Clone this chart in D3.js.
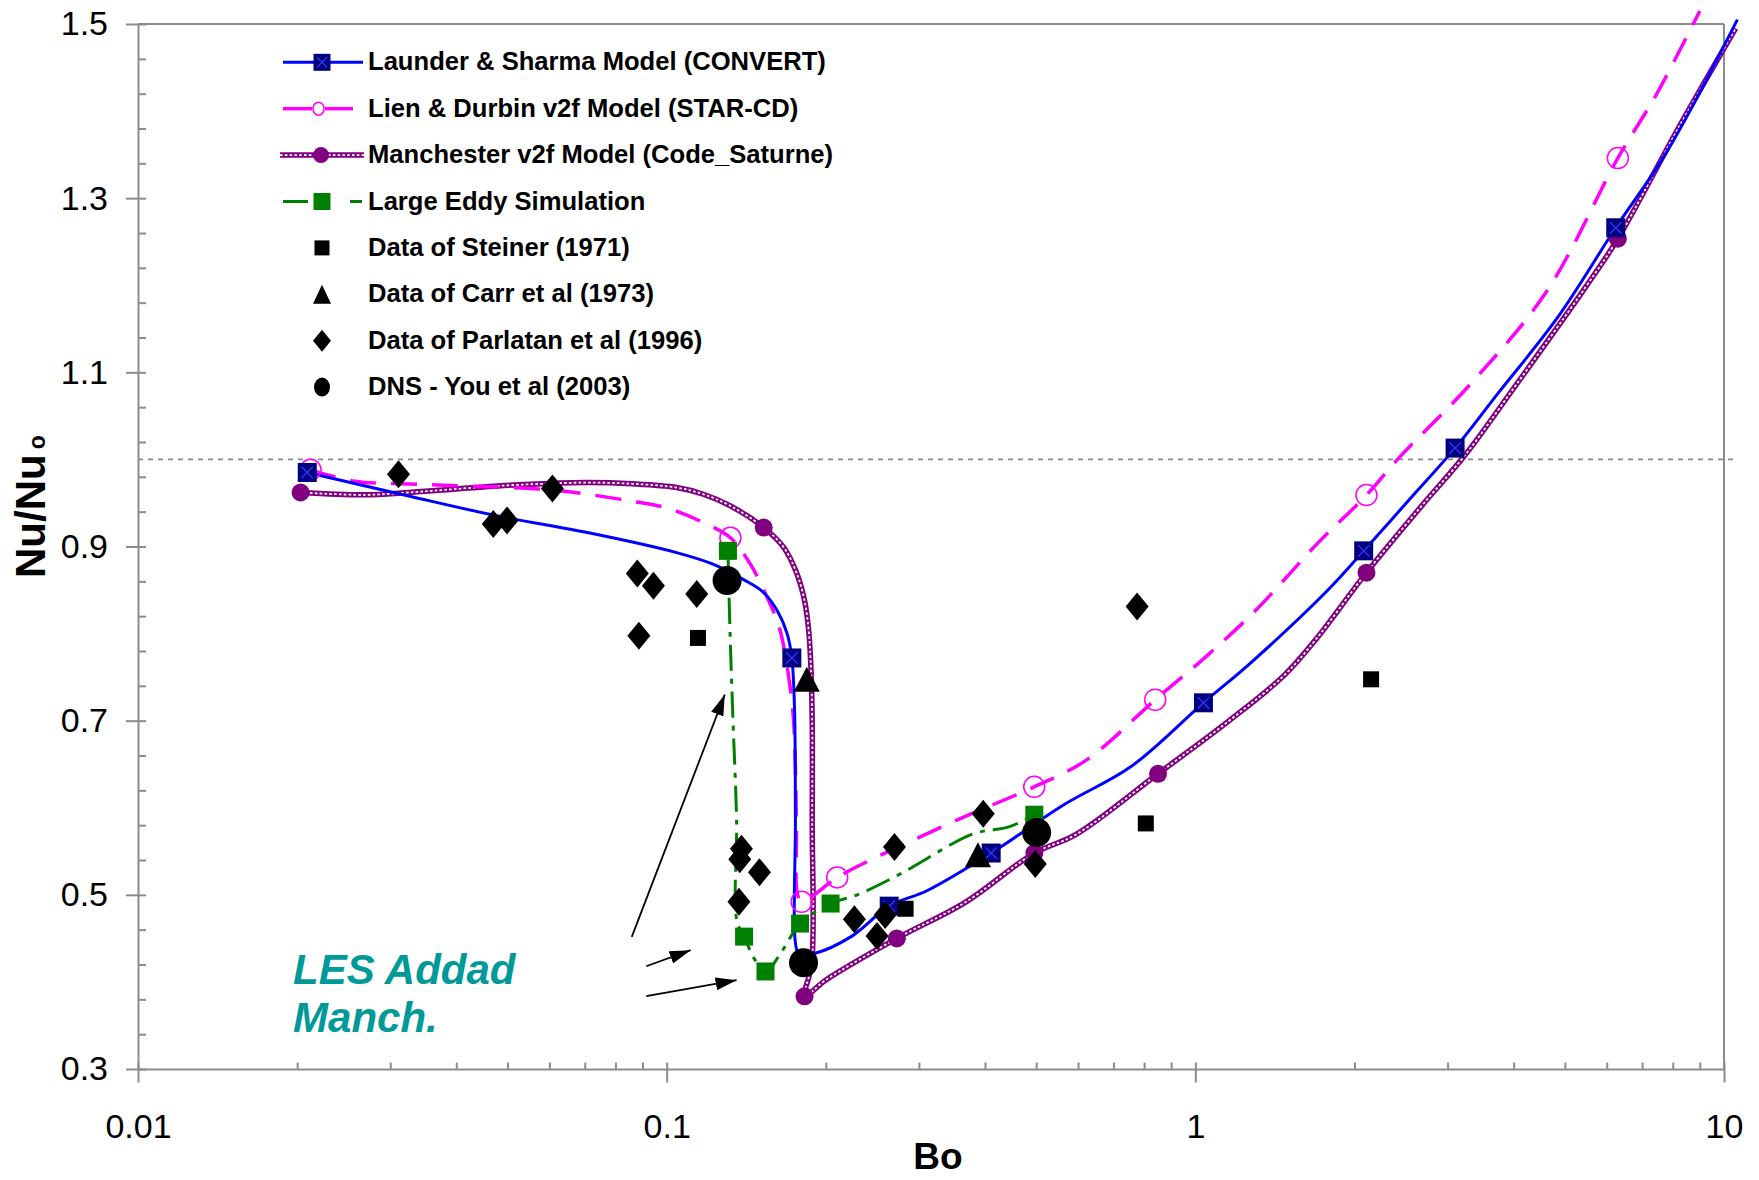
<!DOCTYPE html>
<html>
<head>
<meta charset="utf-8">
<script src="https://cdn.jsdelivr.net/npm/d3@7"></script>
<style>
  html, body { margin: 0; padding: 0; background: #ffffff; }
  svg { display: block; }
  text { font-family: "Liberation Sans", Arial, Helvetica, sans-serif; }
</style>
</head>
<body>
<svg id="chart" width="1759" height="1180"></svg>
<script>
// ---------------------------------------------------------------
// Nu/Nu0 versus buoyancy parameter Bo: turbulence models, LES and
// experimental / DNS data for heated upward pipe flow.
// Each point is [Bo, Nu/Nu0].
// ---------------------------------------------------------------

// Launder & Sharma model (CONVERT): curve and symbol positions
const launderSharmaCurve = [
  [0.0209, 0.985], [0.0325, 0.958], [0.048, 0.935], [0.0708, 0.916],
  [0.1044, 0.893], [0.122, 0.880], [0.1398, 0.862], [0.152, 0.848],
  [0.162, 0.826], [0.1690, 0.800], [0.1725, 0.772], [0.1745, 0.715],
  [0.1752, 0.585], [0.1752, 0.445], [0.178, 0.432], [0.191, 0.433],
  [0.2233, 0.452], [0.2636, 0.487], [0.3113, 0.505], [0.411, 0.548],
  [0.566, 0.604], [0.7545, 0.647], [1.036, 0.7205], [1.276, 0.767],
  [1.782, 0.850], [2.082, 0.895], [2.61, 0.962], [3.10, 1.013],
  [3.727, 1.075], [4.845, 1.163], [6.24, 1.266], [7.81, 1.354],
  [10.6, 1.505]
];
const launderSharmaMarkers = [
  [0.0209, 0.985], [0.1725, 0.772], [0.2636, 0.487], [0.411, 0.548],
  [1.036, 0.7205], [2.082, 0.895], [3.10, 1.013], [6.24, 1.266]
];

// Lien & Durbin v2f model (STAR-CD)
const lienDurbinCurve = [
  [0.0212, 0.988], [0.0257, 0.975], [0.0338, 0.9715], [0.041, 0.9696],
  [0.0582, 0.9658], [0.0708, 0.960], [0.086, 0.952], [0.1004, 0.944],
  [0.1173, 0.9275], [0.132, 0.910], [0.1439, 0.880], [0.154, 0.845],
  [0.1633, 0.807], [0.1698, 0.754], [0.1738, 0.700], [0.1760, 0.585],
  [0.1769, 0.500], [0.180, 0.492], [0.2102, 0.520], [0.2495, 0.5434],
  [0.2766, 0.556], [0.3636, 0.589], [0.4957, 0.624], [0.623, 0.655],
  [0.8397, 0.724], [1.054, 0.775], [1.307, 0.828], [1.699, 0.903],
  [2.107, 0.959], [2.43, 1.002], [3.308, 1.086], [4.62, 1.193],
  [6.298, 1.346], [7.447, 1.419], [9.0, 1.515]
];
const lienDurbinMarkers = [
  [0.0212, 0.988], [0.132, 0.910], [0.180, 0.492], [0.2102, 0.520],
  [0.4957, 0.624], [0.8397, 0.724], [2.107, 0.959], [6.298, 1.346]
];

// Manchester v2f model (Code_Saturne)
const manchesterCurve = [
  [0.0203, 0.962], [0.0268, 0.9593], [0.0325, 0.962], [0.0395, 0.9658],
  [0.048, 0.9696], [0.0582, 0.972], [0.0708, 0.9734], [0.086, 0.972],
  [0.1044, 0.9677], [0.1173, 0.960], [0.132, 0.9466], [0.1526, 0.9218],
  [0.1666, 0.8988], [0.1755, 0.872], [0.1818, 0.8415], [0.1854, 0.807],
  [0.1872, 0.769], [0.1885, 0.700], [0.1885, 0.585], [0.1880, 0.420],
  [0.1823, 0.3835], [0.1998, 0.402], [0.2725, 0.450], [0.3685, 0.492],
  [0.496, 0.548], [0.5937, 0.569], [0.850, 0.639], [1.159, 0.700],
  [1.472, 0.752], [1.699, 0.795], [2.107, 0.870], [2.674, 0.946],
  [3.238, 1.005], [4.004, 1.082], [5.46, 1.197], [6.298, 1.2535],
  [8.19, 1.380], [10.52, 1.495]
];
const manchesterMarkers = [
  [0.0203, 0.962], [0.1526, 0.9218], [0.1823, 0.3835], [0.2725, 0.450],
  [0.496, 0.548], [0.850, 0.639], [2.107, 0.870], [6.298, 1.2535]
];

// Large Eddy Simulation
const lesCurve = [
  [0.1306, 0.895], [0.1318, 0.800], [0.1335, 0.700], [0.1356, 0.585],
  [0.1358, 0.470], [0.1401, 0.452], [0.1470, 0.425], [0.1538, 0.412],
  [0.1655, 0.436], [0.1788, 0.467], [0.2042, 0.490], [0.2283, 0.4995],
  [0.2766, 0.524], [0.380, 0.570], [0.444, 0.578], [0.496, 0.592]
];
const lesMarkers = [
  [0.1306, 0.895], [0.1401, 0.452], [0.1538, 0.412], [0.1788, 0.467],
  [0.2042, 0.490], [0.496, 0.592]
];

// Experimental and DNS data
const steinerData = [[0.1146, 0.795], [0.2831, 0.484], [0.806, 0.582], [2.15, 0.7475]];
const carrData = [[0.1841, 0.7475], [0.388, 0.546]];
const parlatanData = [
  [0.0311, 0.983], [0.047, 0.9257], [0.0499, 0.930], [0.0608, 0.9665],
  [0.088, 0.869], [0.0944, 0.855], [0.0886, 0.7976], [0.114, 0.8454],
  [0.1385, 0.553], [0.1375, 0.541], [0.1498, 0.526], [0.137, 0.492],
  [0.2265, 0.472], [0.2500, 0.4526], [0.2590, 0.4768], [0.2697, 0.555],
  [0.397, 0.593], [0.498, 0.5355], [0.776, 0.831]
];
const dnsData = [[0.1301, 0.861], [0.1815, 0.422], [0.501, 0.5715]];

// Reference level Nu/Nu0 = 1
const referenceLevel = [[0.01, 1.0], [10.6, 1.0]];

// Axis ticks and labels
const xTickValues = [0.01, 0.1, 1, 10];
const xTickLabels = ["0.01", "0.1", "1", "10"];
const yTickValues = [0.3, 0.5, 0.7, 0.9, 1.1, 1.3, 1.5];
const yTickLabels = ["0.3", "0.5", "0.7", "0.9", "1.1", "1.3", "1.5"];

// Legend entries
const legendLabels = [
  "Launder & Sharma Model (CONVERT)",
  "Lien & Durbin v2f Model (STAR-CD)",
  "Manchester v2f Model (Code_Saturne)",
  "Large Eddy Simulation",
  "Data of Steiner (1971)",
  "Data of Carr et al (1973)",
  "Data of Parlatan et al (1996)",
  "DNS - You et al (2003)"
];

// Annotation arrows [from, to] and caption
const annotationArrows = [
  [[0.0859, 0.4517], [0.1288, 0.730]],
  [[0.0915, 0.418], [0.1110, 0.4364]],
  [[0.0915, 0.3837], [0.1356, 0.402]]
];
const annotationLines = [
  { text: "LES Addad", at: [0.01965, 0.3975] },
  { text: "Manch.", at: [0.01965, 0.3428] }
];

// ---------------------------------------------------------------
const colors = {
  blue: "#0000ff", navy: "#000080", magenta: "#ff00ff",
  purple: "#800080", green: "#008000", axis: "#8c8c8c", teal: "#009999"
};

const svg = d3.select("#chart");
const x = d3.scaleLog().domain([0.01, 10]).range([138, 1724]);
const y = d3.scaleLinear().domain([0.3, 1.5]).range([1069, 24]);

// ---------- axes ----------
const gx = svg.append("g").attr("transform", `translate(0,${y(0.3)})`);
gx.call(d3.axisBottom(x).tickValues(xTickValues).tickSize(13.5).tickSizeOuter(0)
  .tickPadding(31.5).tickFormat((d, i) => xTickLabels[i]));
const gxIn = svg.append("g").attr("transform", `translate(0,${y(0.3)})`);
gxIn.call(d3.axisBottom(x).tickValues(x.ticks()).tickSize(-6.5).tickSizeOuter(0).tickFormat(""));
gxIn.select(".domain").remove();

const gy = svg.append("g").attr("transform", `translate(${x(0.01)},0)`);
gy.call(d3.axisLeft(y).tickValues(yTickValues).tickSize(12).tickSizeOuter(0)
  .tickPadding(18).tickFormat((d, i) => yTickLabels[i]));
const gyIn = svg.append("g").attr("transform", `translate(${x(0.01)},0)`);
gyIn.call(d3.axisLeft(y).tickValues(d3.range(0, 31).map(k => 0.3 + k * 0.04))
  .tickSize(-8).tickSizeOuter(0).tickFormat(""));
gyIn.select(".domain").remove();

[gx, gxIn, gy, gyIn].forEach(g => {
  g.selectAll(".domain").attr("stroke", colors.axis).attr("stroke-width", 2);
  g.selectAll(".tick line").attr("stroke", colors.axis).attr("stroke-width", 2);
  g.selectAll(".tick text").attr("fill", "#000").attr("font-size", 34)
    .attr("font-family", "'Liberation Sans', Arial, sans-serif");
});

// frame: top and right edges
svg.append("line").attr("x1", x(0.01)).attr("x2", x(10)).attr("y1", y(1.5)).attr("y2", y(1.5))
  .attr("stroke", colors.axis).attr("stroke-width", 2);
svg.append("line").attr("x1", x(10)).attr("x2", x(10)).attr("y1", y(1.5)).attr("y2", y(0.3))
  .attr("stroke", colors.axis).attr("stroke-width", 2);

// axis titles
svg.append("text").attr("x", 938).attr("y", 1169).attr("text-anchor", "middle")
  .attr("font-size", 37).attr("font-weight", "bold").text("Bo");
const yTitle = svg.append("text").attr("transform", "translate(45,578) rotate(-90)")
  .attr("font-size", 42).attr("font-weight", "bold");
yTitle.append("tspan").text("Nu/Nu");
yTitle.append("tspan").attr("dx", 5).attr("font-size", 23).text("o");

// ---------- lines ----------
const line = d3.line().x(d => x(d[0])).y(d => y(d[1])).curve(d3.curveCatmullRom.alpha(0.5));
const straight = d3.line().x(d => x(d[0])).y(d => y(d[1]));

svg.append("path").attr("d", straight(referenceLevel)).attr("fill", "none")
  .attr("stroke", "#8a8a8a").attr("stroke-width", 1.6).attr("stroke-dasharray", "5,5");

// Manchester: ring-chain line
svg.append("path").attr("d", line(manchesterCurve)).attr("fill", "none")
  .attr("stroke", colors.purple).attr("stroke-width", 5.5).attr("stroke-linejoin", "round");
svg.append("path").attr("d", line(manchesterCurve)).attr("fill", "none")
  .attr("stroke", "#ffffff").attr("stroke-width", 1.8).attr("stroke-dasharray", "2.6,2.2");

svg.append("path").attr("d", line(lienDurbinCurve)).attr("fill", "none")
  .attr("stroke", colors.magenta).attr("stroke-width", 3.5).attr("stroke-dasharray", "26,15");

svg.append("path").attr("d", line(launderSharmaCurve)).attr("fill", "none")
  .attr("stroke", colors.blue).attr("stroke-width", 3).attr("stroke-linejoin", "round");

svg.append("path").attr("d", line(lesCurve)).attr("fill", "none")
  .attr("stroke", colors.green).attr("stroke-width", 3).attr("stroke-dasharray", "26,8,5,8");

// ---------- marker shapes ----------
const squarePath = s => `M${-s / 2},${-s / 2}H${s / 2}V${s / 2}H${-s / 2}Z`;
const diamondPath = (w, h) => `M0,${-h / 2}L${w / 2},0L0,${h / 2}L${-w / 2},0Z`;
const trianglePath = (w, h) => `M0,${-h / 2}L${w / 2},${h / 2}L${-w / 2},${h / 2}Z`;
const at = d => `translate(${x(d[0])},${y(d[1])})`;

function drawLaunderMarker(g, s) {
  g.append("path").attr("d", squarePath(s)).attr("fill", colors.navy);
  g.append("path").attr("d", `M${-s * 0.3},${-s * 0.3}L${s * 0.3},${s * 0.3}M${s * 0.3},${-s * 0.3}L${-s * 0.3},${s * 0.3}`)
    .attr("stroke", "#3a3aff").attr("stroke-width", 1.2);
}

svg.append("g").selectAll("g").data(manchesterMarkers).join("g").attr("transform", at)
  .append("circle").attr("r", 9).attr("fill", colors.purple);

svg.append("g").selectAll("g").data(lienDurbinMarkers).join("g").attr("transform", at)
  .append("circle").attr("r", 10.5).attr("fill", "none")
  .attr("stroke", colors.magenta).attr("stroke-width", 1.5);

svg.append("g").selectAll("g").data(launderSharmaMarkers).join("g").attr("transform", at)
  .each(function () { drawLaunderMarker(d3.select(this), 19); });

svg.append("g").selectAll("path").data(lesMarkers).join("path").attr("transform", at)
  .attr("d", squarePath(18)).attr("fill", colors.green);

// data symbols
svg.append("g").selectAll("path").data(steinerData).join("path").attr("transform", at)
  .attr("d", squarePath(16)).attr("fill", "#000");
svg.append("g").selectAll("path").data(carrData).join("path").attr("transform", at)
  .attr("d", trianglePath(26, 25)).attr("fill", "#000");
svg.append("g").selectAll("path").data(parlatanData).join("path").attr("transform", at)
  .attr("d", diamondPath(23, 28)).attr("fill", "#000");
svg.append("g").selectAll("circle").data(dnsData).join("circle")
  .attr("cx", d => x(d[0])).attr("cy", d => y(d[1])).attr("r", 14.5).attr("fill", "#000");

// ---------- annotation ----------
svg.append("defs").append("marker").attr("id", "arrowHead")
  .attr("viewBox", "0 0 21 13").attr("refX", 21).attr("refY", 6.5)
  .attr("markerWidth", 21).attr("markerHeight", 13)
  .attr("markerUnits", "userSpaceOnUse").attr("orient", "auto")
  .append("path").attr("d", "M0,0L21,6.5L0,13Z").attr("fill", "#000");

svg.append("g").selectAll("line").data(annotationArrows).join("line")
  .attr("x1", d => x(d[0][0])).attr("y1", d => y(d[0][1]))
  .attr("x2", d => x(d[1][0])).attr("y2", d => y(d[1][1]))
  .attr("stroke", "#000").attr("stroke-width", 1.8).attr("marker-end", "url(#arrowHead)");

svg.append("g").selectAll("text").data(annotationLines).join("text")
  .attr("x", d => x(d.at[0])).attr("y", d => y(d.at[1]))
  .attr("fill", colors.teal).attr("font-size", 42).attr("font-weight", "bold")
  .attr("font-style", "italic").text(d => d.text);

// ---------- legend ----------
const legend = svg.append("g").attr("transform", "translate(0,62.3)");
const rowGap = 46.4;
const rows = legend.selectAll("g").data(legendLabels).join("g")
  .attr("transform", (d, i) => `translate(0,${i * rowGap})`);
rows.append("text").attr("x", 368).attr("y", 8).attr("font-size", 25.6)
  .attr("font-weight", "bold").attr("fill", "#000").text(d => d);

const symbolX = 322;
rows.each(function (d, i) {
  const g = d3.select(this);
  if (i === 0) {
    g.append("line").attr("x1", 283).attr("x2", 363).attr("stroke", colors.blue).attr("stroke-width", 3);
    const m = g.append("g").attr("transform", `translate(${symbolX},0)`);
    drawLaunderMarker(m, 17);
  } else if (i === 1) {
    g.append("line").attr("x1", 283).attr("x2", 312).attr("stroke", colors.magenta).attr("stroke-width", 3.5);
    g.append("line").attr("x1", 325).attr("x2", 353).attr("stroke", colors.magenta).attr("stroke-width", 3.5);
    g.append("ellipse").attr("cx", 318.5).attr("rx", 5.5).attr("ry", 6.5).attr("fill", "none")
      .attr("stroke", colors.magenta).attr("stroke-width", 1.5);
  } else if (i === 2) {
    g.append("line").attr("x1", 280).attr("x2", 364).attr("stroke", colors.purple).attr("stroke-width", 5.5);
    g.append("line").attr("x1", 280).attr("x2", 364).attr("stroke", "#fff").attr("stroke-width", 1.8)
      .attr("stroke-dasharray", "2.6,2.2");
    g.append("circle").attr("cx", 321).attr("r", 8).attr("fill", colors.purple);
  } else if (i === 3) {
    g.append("line").attr("x1", 283).attr("x2", 308).attr("stroke", colors.green).attr("stroke-width", 3);
    g.append("line").attr("x1", 350).attr("x2", 362).attr("stroke", colors.green).attr("stroke-width", 3);
    g.append("path").attr("transform", `translate(${symbolX},0)`).attr("d", squarePath(17)).attr("fill", colors.green);
  } else if (i === 4) {
    g.append("path").attr("transform", `translate(${symbolX},0)`).attr("d", squarePath(15)).attr("fill", "#000");
  } else if (i === 5) {
    g.append("path").attr("transform", `translate(${symbolX},0)`).attr("d", trianglePath(18, 19)).attr("fill", "#000");
  } else if (i === 6) {
    g.append("path").attr("transform", `translate(${symbolX},0)`).attr("d", diamondPath(18, 22)).attr("fill", "#000");
  } else {
    g.append("ellipse").attr("cx", symbolX).attr("rx", 8).attr("ry", 9.5).attr("fill", "#000");
  }
});
</script>
</body>
</html>
